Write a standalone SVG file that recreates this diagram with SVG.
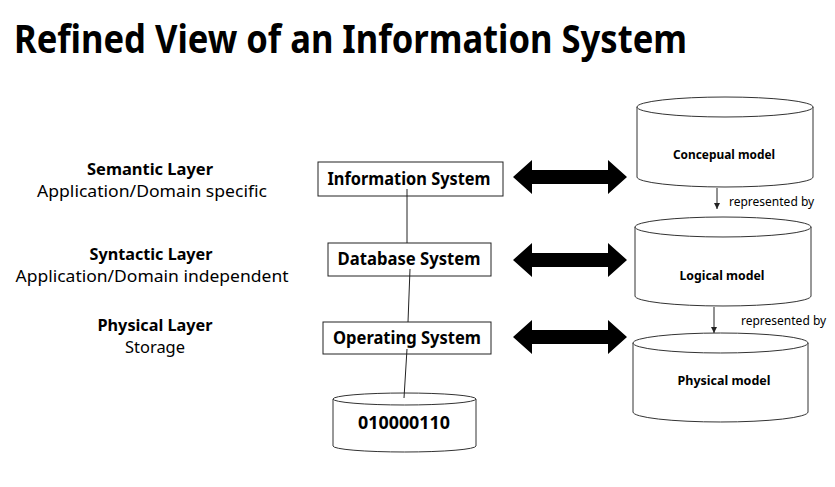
<svg xmlns="http://www.w3.org/2000/svg" width="835" height="487" viewBox="0 0 835 487">
  <style>
    text { font-family: "Noto Sans", "Open Sans", sans-serif; fill: #000; }
    .title { font-size: 39px; font-weight: bold; }
    .layer { font-size: 16px; font-weight: bold; text-anchor: middle; }
    .desc { font-size: 16px; text-anchor: middle; }
    .box { fill: #fff; stroke: #222; stroke-width: 1; }
    .boxlabel { font-size: 17px; font-weight: bold; text-anchor: middle; }
    .cyl { fill: #fff; stroke: #333; stroke-width: 1; }
    .cyllabel { font-size: 13px; font-weight: bold; text-anchor: middle; }
    .note { font-size: 12px; }
    .link { stroke: #222; stroke-width: 1; fill: none; }
    .dbl { fill: #000; }
  </style>
  <defs>
    <marker id="tip" viewBox="0 0 8 8" refX="8" refY="4" markerWidth="6" markerHeight="6" orient="auto">
      <path d="M0,0 L8,4 L0,8 z" fill="#222"/>
    </marker>
  </defs>

  <rect width="835" height="487" fill="#fff"/>

  <text class="title" x="14" y="53" textLength="673" lengthAdjust="spacingAndGlyphs">Refined View of an Information System</text>

  <!-- layer captions -->
  <g id="semantic-layer">
    <text class="layer" x="150" y="175" textLength="126" lengthAdjust="spacingAndGlyphs">Semantic Layer</text>
    <text class="desc" x="152" y="197" textLength="230" lengthAdjust="spacingAndGlyphs">Application/Domain specific</text>
  </g>
  <g id="syntactic-layer">
    <text class="layer" x="151" y="260" textLength="123" lengthAdjust="spacingAndGlyphs">Syntactic Layer</text>
    <text class="desc" x="152" y="282" textLength="273" lengthAdjust="spacingAndGlyphs">Application/Domain independent</text>
  </g>
  <g id="physical-layer">
    <text class="layer" x="155" y="331" textLength="115" lengthAdjust="spacingAndGlyphs">Physical Layer</text>
    <text class="desc" x="155" y="353" textLength="60" lengthAdjust="spacingAndGlyphs">Storage</text>
  </g>

  <!-- system stack -->
  <g id="information-system">
    <rect class="box" x="318" y="162" width="185" height="34"/>
    <text class="boxlabel" x="409" y="185" textLength="163" lengthAdjust="spacingAndGlyphs">Information System</text>
  </g>
  <g id="database-system">
    <rect class="box" x="328" y="243" width="163" height="33"/>
    <text class="boxlabel" x="409" y="265" textLength="143" lengthAdjust="spacingAndGlyphs">Database System</text>
  </g>
  <g id="operating-system">
    <rect class="box" x="323" y="322" width="168" height="32"/>
    <text class="boxlabel" x="407" y="344" textLength="148" lengthAdjust="spacingAndGlyphs">Operating System</text>
  </g>
  <g id="storage-bits">
    <path class="cyl" d="M333,399 A71.5,6 0 0 1 476,399 L476,446 A71.5,6 0 0 1 333,446 Z"/>
    <path class="cyl" d="M333,399 A71.5,6 0 0 0 476,399"/>
    <text class="boxlabel" x="404" y="429" textLength="92" lengthAdjust="spacingAndGlyphs">010000110</text>
  </g>

  <!-- model stack -->
  <g id="conceptual-model">
    <path class="cyl" d="M637,107 A88,10 0 0 1 813,107 L813,177 A88,10 0 0 1 637,177 Z"/>
    <path class="cyl" d="M637,107 A88,10 0 0 0 813,107"/>
    <text class="cyllabel" x="724" y="159" textLength="102" lengthAdjust="spacingAndGlyphs">Concepual model</text>
  </g>
  <g id="logical-model">
    <path class="cyl" d="M635,227 A88,10 0 0 1 811,227 L811,296 A88,10 0 0 1 635,296 Z"/>
    <path class="cyl" d="M635,227 A88,10 0 0 0 811,227"/>
    <text class="cyllabel" x="722" y="280" textLength="85" lengthAdjust="spacingAndGlyphs">Logical model</text>
  </g>
  <g id="physical-model">
    <path class="cyl" d="M633,343 A87.5,10 0 0 1 808,343 L808,412 A87.5,10 0 0 1 633,412 Z"/>
    <path class="cyl" d="M633,343 A87.5,10 0 0 0 808,343"/>
    <text class="cyllabel" x="724" y="385" textLength="93" lengthAdjust="spacingAndGlyphs">Physical model</text>
  </g>

  <!-- connectors -->
  <g id="connectors">
    <line class="link" x1="407" y1="189" x2="407" y2="243"/>
    <line class="link" x1="410" y1="269" x2="408" y2="322"/>
    <line class="link" x1="407" y1="349" x2="404" y2="398"/>
    <polygon class="dbl" points="513,177 532,160 532,170 608,170 608,160 627,177 608,194 608,184 532,184 532,194"/>
    <polygon class="dbl" points="513,260 532,243 532,253 608,253 608,243 627,260 608,277 608,267 532,267 532,277"/>
    <polygon class="dbl" points="513,337 532,320 532,330 608,330 608,320 627,337 608,354 608,344 532,344 532,354"/>
    <line class="link" x1="717" y1="188" x2="717" y2="209" marker-end="url(#tip)"/>
    <line class="link" x1="714" y1="307" x2="714" y2="333" marker-end="url(#tip)"/>
    <text class="note" x="729" y="206">represented by</text>
    <text class="note" x="741" y="325">represented by</text>
  </g>
</svg>
